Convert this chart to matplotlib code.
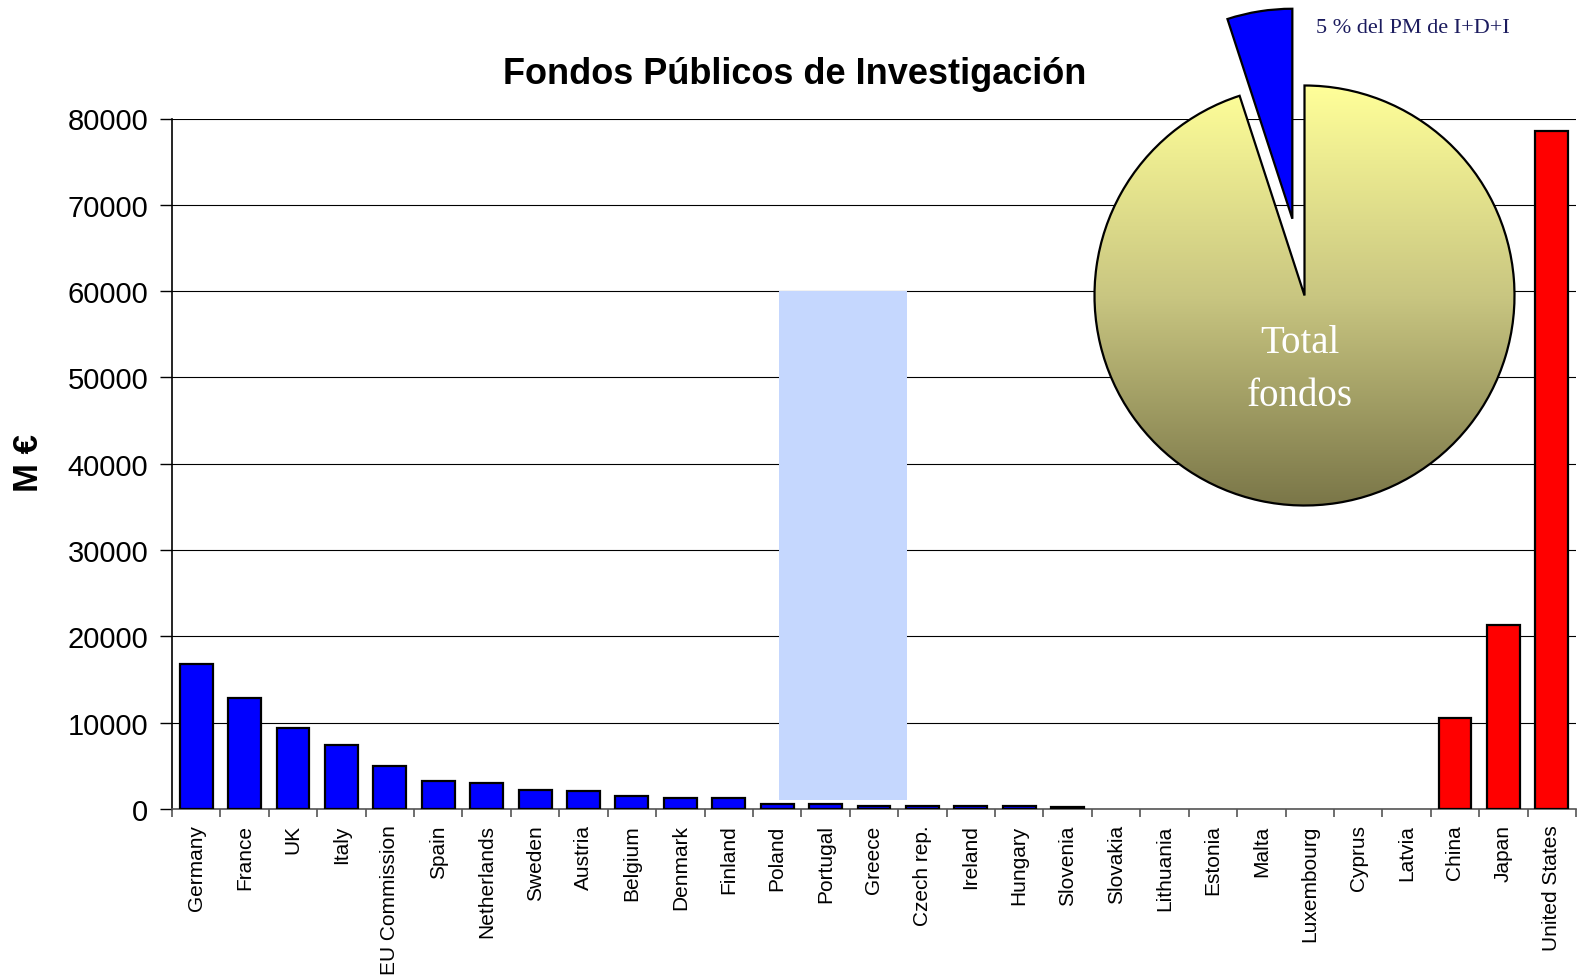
import numpy as np
import matplotlib.pyplot as plt
from matplotlib.patches import Rectangle
from matplotlib.colors import LinearSegmentedColormap

plt.rcParams['font.family'] = ['Liberation Sans', 'DejaVu Sans']

# data
countries = ["Germany", "France", "UK", "Italy", "EU Commission", "Spain",
             "Netherlands", "Sweden", "Austria", "Belgium", "Denmark", "Finland",
             "Poland", "Portugal", "Greece", "Czech rep.", "Ireland", "Hungary",
             "Slovenia", "Slovakia", "Lithuania", "Estonia", "Malta", "Luxembourg",
             "Cyprus", "Latvia", "China", "Japan", "United States"]
funds = [16800, 12900, 9400, 7400, 5000, 3300, 3000, 2250, 2050, 1550,
         1300, 1300, 600, 600, 380, 380, 380, 380, 200, 0, 0, 0, 0, 0,
         0, 0, 10600, 21300, 78500]
is_eu = [True] * 26 + [False] * 3

yticks = [0, 10000, 20000, 30000, 40000, 50000, 60000, 70000, 80000]

# pie inset: share of the framework programme
pie_shares = [5, 95]
pie_small_label = "5 % del PM de I+D+I"
pie_big_label = "Total\nfondos"

# highlighted block over Poland..Greece (data units)
box_x = (12.04, 14.69)
box_y = (1000, 60000)

W, H = 1577, 979
fig = plt.figure(figsize=(W / 100, H / 100), dpi=100)
ax = fig.add_axes([172 / W, 1 - 810 / H, (1576 - 172) / W, (810 - 119.5) / H])

x = np.arange(len(countries))
colors = ['#0000FF' if e else '#FF0000' for e in is_eu]
edge_w = [1.6 if v > 0 else 0 for v in funds]

ax.set_axisbelow(True)
ax.yaxis.grid(True, color='black', linewidth=0.8)
ax.add_patch(Rectangle((box_x[0], box_y[0]), box_x[1] - box_x[0], box_y[1] - box_y[0],
                       facecolor='#C5D7FE', edgecolor='none', zorder=2))
ax.bar(x, funds, width=0.68, color=colors, edgecolor='black', linewidth=edge_w, zorder=3)

ax.set_xlim(-0.5, len(countries) - 0.5)
ax.set_ylim(0, 80000)
ax.set_yticks(yticks)
ax.set_yticklabels([str(v) for v in yticks], fontsize=21)
ax.tick_params(axis='y', length=9, width=1, pad=8)

ax.set_xticks(x)
ax.set_xticklabels(countries, rotation=90, fontsize=15)
ax.set_xticks(np.arange(len(countries) + 1) - 0.5, minor=True)
ax.tick_params(axis='x', which='major', length=0, pad=11)
ax.tick_params(axis='x', which='minor', length=6, width=1.2, color='#555555')

for side in ['top', 'right']:
    ax.spines[side].set_visible(False)
ax.spines['left'].set_linewidth(1.2)
ax.spines['bottom'].set_color('#555555')
ax.spines['bottom'].set_linewidth(1.2)

fig.text(28 / W, 1 - 463 / H, "M €", rotation=90, fontsize=25, fontweight='bold',
         ha='center', va='center')
fig.text(795 / W, 1 - 75 / H, "Fondos Públicos de Investigación", fontsize=26,
         fontweight='bold', ha='center', va='center')

# overlay axes in pixel units for the pie
ov = fig.add_axes([0, 0, 1, 1], facecolor='none')
ov.set_zorder(5)
cx, cy, r = 1304.5, H - 296.5, 210
wedges, _ = ov.pie(pie_shares, startangle=90, explode=[0.37 * r, 0], center=(cx, cy),
                   radius=r, colors=['#0000FF', 'none'],
                   wedgeprops=dict(edgecolor='black', linewidth=1.6))
ov.set_xlim(0, W)
ov.set_ylim(0, H)
ov.set_aspect('equal')
ov.axis('off')

grad = LinearSegmentedColormap.from_list('pie', ['#7A7648', '#C9C681', '#FFFF99'])
g = np.linspace(0, 1, 256).reshape(-1, 1)
im = ov.imshow(g, cmap=grad, origin='lower', aspect='auto',
               extent=(cx - r, cx + r, cy - r, cy + r), zorder=0.5)
im.set_clip_path(wedges[1])
wedges[1].set_zorder(1)

ov.text(1316, H - 33, pie_small_label, fontsize=16, color='#1B1B5E',
        family=['Liberation Serif', 'DejaVu Serif'], ha='left', va='baseline')
ov.text(1300, H - 370, pie_big_label, fontsize=28, color='white', linespacing=1.55,
        family=['Liberation Serif', 'DejaVu Serif'], ha='center', va='center')

fig.savefig('out.png', dpi=100)
